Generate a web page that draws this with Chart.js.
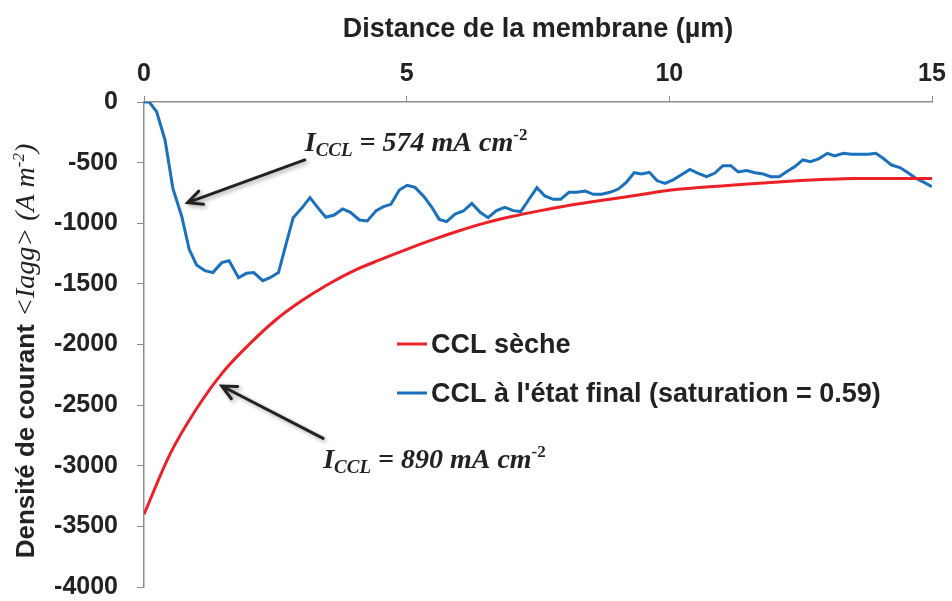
<!DOCTYPE html>
<html>
<head>
<meta charset="utf-8">
<script src="https://cdn.jsdelivr.net/npm/chart.js@4.4.0/dist/chart.umd.min.js"></script>
<style>
    html, body { margin: 0; padding: 0; background: #fff; }
    #wrap { width: 952px; height: 601px; }
</style>
</head>
<body>
<div id="wrap"><canvas id="currentChart"></canvas></div>
<script>
// distance (µm) and current density (A m-2)
const redX = [0, 0.5, 1, 1.5, 2, 2.5, 3, 3.5, 4, 4.5, 5, 5.5, 6, 6.5, 7, 7.5, 8, 8.5, 9, 9.5, 10, 10.5, 11, 11.5, 12, 12.5, 13, 13.5, 14, 14.5, 15];
const redY = [-3400, -2900, -2530, -2230, -2000, -1800, -1640, -1505, -1390, -1300, -1215, -1135, -1062, -997, -945, -900, -860, -825, -793, -760, -728, -708, -692, -676, -661, -648, -638, -631, -630, -630, -630];

const blueX = [0, 0.1, 0.24, 0.4, 0.55, 0.72, 0.86, 1.0, 1.16, 1.31, 1.48, 1.62, 1.8, 1.95, 2.09, 2.26, 2.4, 2.56, 2.7, 2.84,
    3.0, 3.16, 3.32, 3.46, 3.62, 3.78, 3.93, 4.1, 4.25, 4.42, 4.56, 4.7, 4.86, 5.01, 5.16, 5.33, 5.48, 5.62, 5.76, 5.92,
    6.08, 6.24, 6.4, 6.55, 6.71, 6.87, 7.03, 7.17, 7.32, 7.48, 7.63, 7.79, 7.93, 8.09, 8.24, 8.4, 8.55, 8.71, 8.87, 9.03,
    9.18, 9.33, 9.47, 9.62, 9.77, 9.92, 10.08, 10.23, 10.39, 10.55, 10.71, 10.86, 11.02, 11.17, 11.31, 11.47, 11.63, 11.79, 11.93, 12.09,
    12.23, 12.39, 12.54, 12.69, 12.85, 13.01, 13.15, 13.31, 13.47, 13.63, 13.79, 13.93, 14.07, 14.23, 14.39, 14.53, 14.69, 14.85, 15.0];
const blueY = [0, 0, -80, -313, -712, -946, -1215, -1344, -1391, -1407, -1325, -1309, -1449, -1413, -1407, -1474, -1449, -1407, -1179, -954,
    -877, -789, -877, -951, -932, -882, -910, -973, -981, -896, -863, -844, -726, -687, -704, -781, -869, -968, -987, -924,
    -899, -836, -910, -954, -896, -869, -896, -904, -808, -707, -775, -803, -803, -745, -745, -734, -761, -761, -745, -718,
    -663, -583, -594, -580, -650, -671, -640, -600, -556, -588, -616, -588, -525, -525, -577, -566, -583, -594, -616, -616,
    -575, -533, -478, -492, -467, -423, -445, -423, -431, -431, -431, -423, -464, -520, -541, -580, -629, -663, -698];

const xTicks = [0, 5, 10, 15];
const seriesNames = ["CCL sèche", "CCL à l'état final (saturation = 0.59)"];
const seriesColors = ['#ec2027', '#1b70bd'];

const SANS = '"Liberation Sans", Arial, sans-serif';
const SERIF = '"Liberation Serif", "Times New Roman", serif';

// draw a row of text pieces with different fonts / offsets
function drawRich(ctx, x, y, parts) {
    parts.forEach(p => {
        ctx.font = p.font;
        ctx.fillText(p.t, x, y + (p.dy || 0));
        x += ctx.measureText(p.t).width;
    });
}
function richWidth(ctx, parts) {
    let w = 0;
    parts.forEach(p => { ctx.font = p.font; w += ctx.measureText(p.t).width; });
    return w;
}

function arrow(ctx, x1, y1, x2, y2) {
    const a = Math.atan2(y2 - y1, x2 - x1);
    const h = 16;
    ctx.beginPath();
    ctx.moveTo(x1, y1);
    ctx.lineTo(x2, y2);
    ctx.moveTo(x2 - h * Math.cos(a - 0.45), y2 - h * Math.sin(a - 0.45));
    ctx.lineTo(x2, y2);
    ctx.lineTo(x2 - h * Math.cos(a + 0.45), y2 - h * Math.sin(a + 0.45));
    ctx.stroke();
}

const extras = {
    id: 'extras',
    afterDatasetsDraw(chart) {
        const ctx = chart.ctx;
        const xs = chart.scales.x, ys = chart.scales.y;
        const px = v => xs.getPixelForValue(v);
        const py = v => ys.getPixelForValue(v);

        ctx.save();
        // arrows with soft shadow
        ctx.strokeStyle = '#222';
        ctx.lineWidth = 3;
        ctx.lineCap = 'round';
        ctx.shadowColor = 'rgba(0,0,0,0.35)';
        ctx.shadowBlur = 4;
        ctx.shadowOffsetX = 2;
        ctx.shadowOffsetY = 2;
        arrow(ctx, px(3.06), py(-478), px(0.83), py(-830));
        arrow(ctx, px(3.41), py(-2774), px(1.48), py(-2342));
        ctx.restore();

        ctx.save();
        ctx.fillStyle = '#222';
        ctx.textBaseline = 'alphabetic';
        const big = 'italic bold 28px ' + SERIF;
        const sub = 'italic bold 19px ' + SERIF;
        const sup = 'bold 17px ' + SERIF;
        drawRich(ctx, px(3.06), py(-404), [
            { t: 'I', font: big }, { t: 'CCL', font: sub, dy: 5 },
            { t: ' = 574 mA cm', font: big }, { t: '-2', font: sup, dy: -11 }
        ]);
        drawRich(ctx, px(3.41), py(-3019), [
            { t: 'I', font: big }, { t: 'CCL', font: sub, dy: 5 },
            { t: ' = 890 mA cm', font: big }, { t: '-2', font: sup, dy: -11 }
        ]);

        // legend inside the plot
        ctx.textBaseline = 'middle';
        ctx.font = 'bold 27px ' + SANS;
        seriesNames.forEach((name, i) => {
            const y = 344 + i * 49;
            ctx.strokeStyle = seriesColors[i];
            ctx.lineWidth = 3;
            ctx.beginPath();
            ctx.moveTo(397, y);
            ctx.lineTo(427, y);
            ctx.stroke();
            ctx.fillStyle = '#222';
            ctx.fillText(name, 431, y + 2);
        });

        // y axis title, mixed fonts
        const parts = [
            { t: 'Densité de courant ', font: 'bold 26px ' + SANS },
            { t: '<Iagg> (A m', font: 'italic 28px ' + SERIF },
            { t: '-2', font: 'italic 17px ' + SERIF, dy: -10 },
            { t: ')', font: 'italic 28px ' + SERIF }
        ];
        ctx.translate(34, 351);
        ctx.rotate(-Math.PI / 2);
        ctx.textBaseline = 'alphabetic';
        drawRich(ctx, -richWidth(ctx, parts) / 2, 0, parts);
        ctx.restore();
    }
};

new Chart(document.getElementById('currentChart'), {
    type: 'line',
    data: {
        datasets: [
            {
                label: seriesNames[0],
                data: redX.map((x, i) => ({ x: x, y: redY[i] })),
                borderColor: seriesColors[0],
                borderWidth: 3,
                pointRadius: 0,
                cubicInterpolationMode: 'monotone'
            },
            {
                label: seriesNames[1],
                data: blueX.map((x, i) => ({ x: x, y: blueY[i] })),
                borderColor: seriesColors[1],
                borderWidth: 3,
                pointRadius: 0,
                tension: 0
            }
        ]
    },
    options: {
        responsive: true,
        maintainAspectRatio: false,
        animation: false,
        layout: { padding: { left: 0, top: 0, right: 20, bottom: 14 } },
        plugins: {
            legend: { display: false },
            tooltip: { enabled: false }
        },
        scales: {
            x: {
                type: 'linear',
                position: 'top',
                min: 0,
                max: 15,
                afterBuildTicks: axis => { axis.ticks = xTicks.map(v => ({ value: v })); },
                afterFit: axis => {
                    axis.height = 102;
                    axis.paddingLeft = 0;
                    axis.paddingRight = 0;
                },
                ticks: {
                    color: '#222',
                    padding: 7,
                    font: { family: SANS, size: 25, weight: 'bold' }
                },
                grid: { drawOnChartArea: false, tickLength: 6, color: '#8c8c8c' },
                border: { color: '#8c8c8c', width: 1.5 },
                title: {
                    display: true,
                    text: 'Distance de la membrane (µm)',
                    color: '#222',
                    padding: { top: 13, bottom: 0 },
                    font: { family: SANS, size: 27, weight: 'bold' }
                }
            },
            y: {
                min: -4000,
                max: 0,
                afterFit: axis => {
                    axis.width = 144;
                    axis.paddingTop = 0;
                    axis.paddingBottom = 0;
                },
                ticks: {
                    stepSize: 500,
                    color: '#222',
                    padding: 19,
                    callback: v => String(v),
                    font: { family: SANS, size: 25, weight: 'bold' }
                },
                grid: { drawOnChartArea: false, tickLength: 7, color: '#8c8c8c' },
                border: { color: '#8c8c8c', width: 1.5 }
            }
        }
    },
    plugins: [extras]
});
</script>
</body>
</html>
